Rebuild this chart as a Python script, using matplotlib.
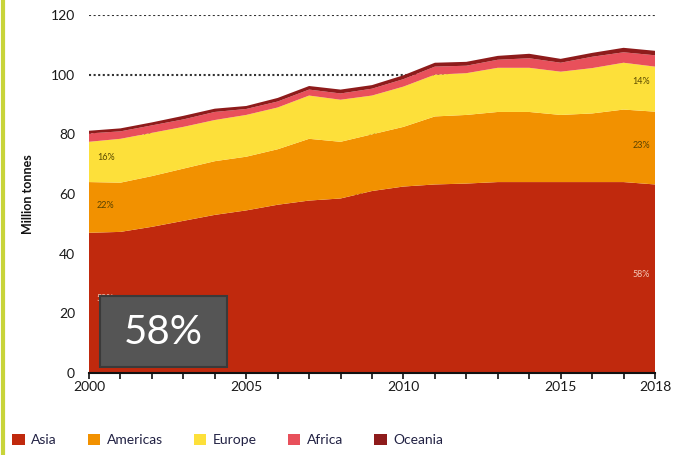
import numpy as np
import matplotlib.pyplot as plt
from matplotlib.patches import Patch, Rectangle

plt.rcParams['font.family'] = ['Lato', 'DejaVu Sans']

# data (million tonnes, cumulative tops converted to layers)
years = list(range(2000, 2019))
asia_top = [47, 47.3, 49, 51, 53, 54.5, 56.4, 57.8, 58.5, 61, 62.5, 63.2, 63.5, 64, 64, 64, 64, 64, 63.2]
americas_top = [64, 63.8, 66, 68.5, 71, 72.5, 75, 78.5, 77.5, 80, 82.5, 86, 86.5, 87.5, 87.5, 86.5, 87, 88.3, 87.6]
europe_top = [77.5, 78.5, 80.5, 82.5, 84.8, 86.5, 89, 93, 91.6, 93, 96, 100, 100.5, 102.3, 102.3, 101, 102.2, 104, 102.7]
africa_top = [80.3, 81, 83, 85, 87.5, 88.5, 91, 95, 93.7, 95.3, 98.5, 102.7, 103, 105, 105.5, 104, 106, 107.5, 106.5]
total_top = [81.2, 82, 84, 86.2, 88.6, 89.5, 92.2, 96.2, 95, 96.5, 99.8, 104, 104.3, 106.3, 107, 105.3, 107.3, 109, 108]

regions = ['Asia', 'Americas', 'Europe', 'Africa', 'Oceania']
colors = ['#c0290d', '#f29100', '#fde03a', '#e8505b', '#8e1b1b']
tops = [asia_top, americas_top, europe_top, africa_top, total_top]
layers = [np.array(tops[0])] + [np.array(tops[i]) - np.array(tops[i - 1]) for i in range(1, 5)]

share_2000 = ['58%', '22%', '16%']
share_2018 = ['58%', '23%', '14%']

fig = plt.figure(figsize=(6.77, 4.55), dpi=100)
ax = fig.add_axes([89 / 677, 1 - 373 / 455, (655 - 89) / 677, (373 - 15) / 455])

ax.stackplot(years, *layers, colors=colors, zorder=2)

ax.set_xlim(2000, 2018)
ax.set_ylim(0, 120)
ax.set_yticks(range(0, 121, 20))
for v in range(20, 121, 20):
    ax.axhline(v, color='#333333', lw=1.5, ls=(0, (1, 1.2)), zorder=1)

ax.set_xticks(years)
ax.set_xticklabels([str(y) if y in (2000, 2005, 2010, 2015, 2018) else '' for y in years])
ax.tick_params(axis='x', direction='out', length=4, width=1.2, color='#111111',
               labelsize=10, labelcolor='#1a1a1a', pad=2)
ax.tick_params(axis='y', length=0, labelsize=10, labelcolor='#1a1a1a', pad=10)
for s in ['top', 'right', 'left']:
    ax.spines[s].set_visible(False)
ax.spines['bottom'].set_linewidth(1.5)
ax.spines['bottom'].set_color('#111111')
ax.spines['bottom'].set_zorder(5)

ax.set_ylabel('Million tonnes', fontsize=9, fontweight='bold', color='#111111', labelpad=12)

# share labels inside the areas
lab_col = ['#f3c6b4', '#5a4300', '#5a4a00']
ax.text(2000.25, 25, share_2000[0], fontsize=6.5, color=lab_col[0], va='center')
ax.text(2000.25, (asia_top[0] + americas_top[0]) / 2 + 0.5, share_2000[1], fontsize=6.5, color=lab_col[1], va='center')
ax.text(2000.25, (americas_top[0] + europe_top[0]) / 2 + 1.5, share_2000[2], fontsize=6.5, color=lab_col[2], va='center')
ax.text(2017.85, 33, share_2018[0], fontsize=6.5, color=lab_col[0], va='center', ha='right')
ax.text(2017.85, (asia_top[-1] + americas_top[-1]) / 2 + 1, share_2018[1], fontsize=6.5, color=lab_col[1], va='center', ha='right')
ax.text(2017.85, (americas_top[-1] + europe_top[-1]) / 2 + 2.5, share_2018[2], fontsize=6.5, color=lab_col[2], va='center', ha='right')

# grey overlay box
fig.patches.append(Rectangle((100 / 677, 1 - 367 / 455), 127 / 677, 71 / 455,
                             transform=fig.transFigure, facecolor='#555555',
                             edgecolor='#3a3a3a', lw=1.5, zorder=10))
fig.text(163 / 677, 1 - 333 / 455, '58%', fontsize=29, fontweight='normal', color='white',
         ha='center', va='center', zorder=11)

# left border line
fig.add_artist(plt.Line2D([3 / 677, 3 / 677], [0, 1], color='#c8d43a', lw=3, transform=fig.transFigure))

handles = [Patch(facecolor=c, edgecolor='none') for c in colors]
fig.legend(handles, regions, loc='center left', bbox_to_anchor=(12 / 677, 1 - 440 / 455),
           ncol=5, frameon=False, fontsize=10, handlelength=0.9, handleheight=0.9,
           handletextpad=0.5, columnspacing=2.2, borderpad=0, borderaxespad=0,
           labelcolor='#222244')

fig.savefig('out.png', dpi=100)
